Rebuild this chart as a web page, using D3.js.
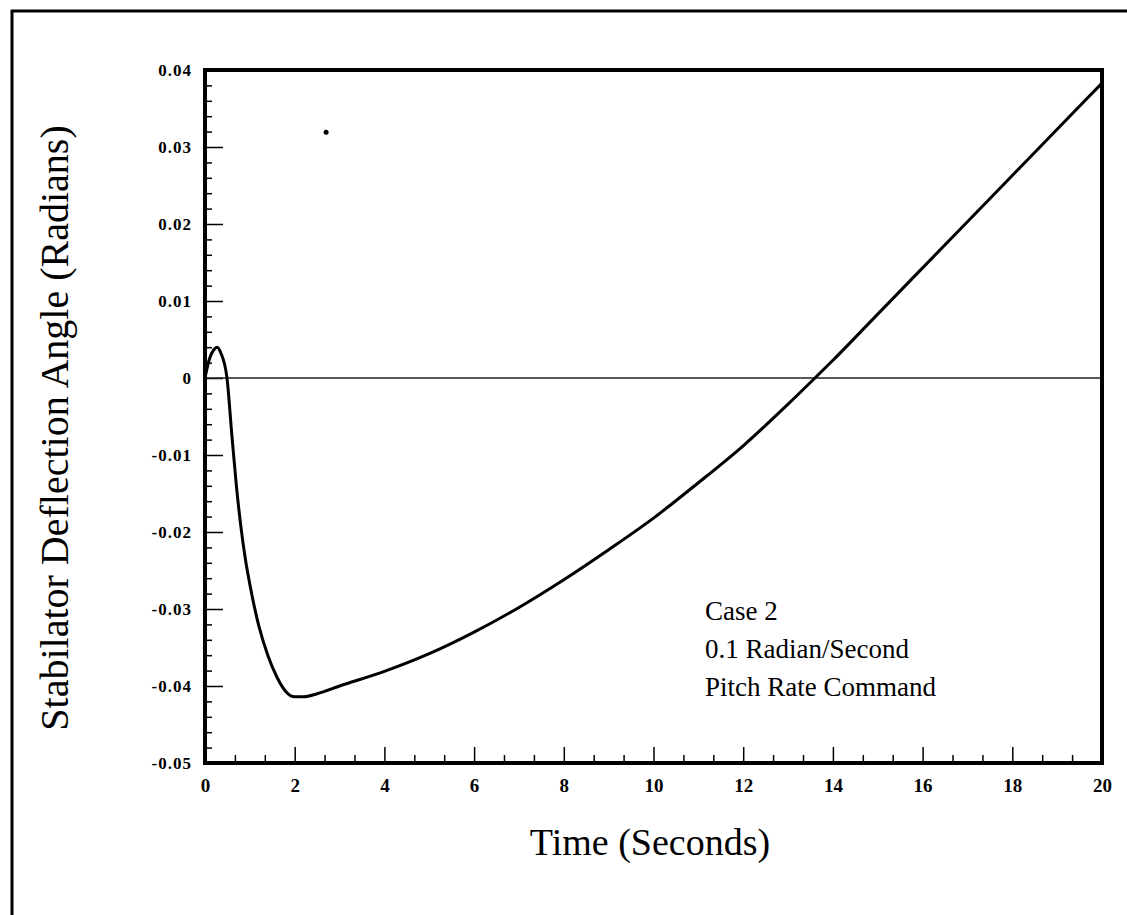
<!DOCTYPE html>
<html>
<head>
<meta charset="utf-8">
<script src="https://cdn.jsdelivr.net/npm/d3@7"></script>
<style>
  body { margin: 0; background: #fff; }
  svg { display: block; }
  text { font-family: "Liberation Serif", "Times New Roman", serif; fill: #000; }
  .tick-lbl { font-weight: bold; }
</style>
</head>
<body>
<svg id="chart" width="1127" height="915"></svg>
<script>
// time samples (seconds) and stabilator deflection (radians)
const timeS = [0, 0.1, 0.2, 0.27, 0.35, 0.49, 0.6, 0.7, 0.8, 0.9, 1.0, 1.1, 1.2, 1.4, 1.6, 1.8, 2.0, 2.2, 2.5, 3,
  4, 5, 6, 7, 8, 9, 10, 11, 12, 13, 13.6, 14, 15, 16, 17, 18, 19, 20];
const angleRad = [0, 0.0025, 0.0037, 0.0040, 0.0033, 0, -0.0075, -0.0140, -0.0193, -0.0235, -0.0268, -0.0297, -0.0322, -0.0360, -0.0388, -0.0407, -0.0414, -0.0414, -0.0410, -0.0400,
  -0.0381, -0.0358, -0.0330, -0.0298, -0.0262, -0.0223, -0.0182, -0.0136, -0.0088, -0.0034, 0, 0.0023, 0.0083, 0.0143, 0.0203, 0.0263, 0.0323, 0.0383];

// stray mark in the scan
const strayDot = [2.7, 0.0319];

const xTicks = [0, 2, 4, 6, 8, 10, 12, 14, 16, 18, 20];
const yTicks = [0.04, 0.03, 0.02, 0.01, 0, -0.01, -0.02, -0.03, -0.04, -0.05];
const yTickLabels = ['0.04', '0.03', '0.02', '0.01', '0', '-0.01', '-0.02', '-0.03', '-0.04', '-0.05'];

const noteLines = ['Case 2', '0.1 Radian/Second', 'Pitch Rate Command'];

const svg = d3.select('#chart');

const plotLeft = 205, plotRight = 1102, plotTop = 70, plotBottom = 763;

let x = d3.scaleLinear().domain([0, 20]).range([plotLeft, plotRight]);
let y = d3.scaleLinear().domain([-0.05, 0.04]).range([plotBottom, plotTop]);

/// outer page frame (only top and left edges fall inside the picture)
svg.append('path')
  .attr('d', 'M12,915 V11 H1127')
  .attr('fill', 'none')
  .attr('stroke', '#000')
  .attr('stroke-width', 3);

/// minor ticks
let xMinor = d3.range(0, 20.001, 2 / 3).filter(function(v) { return Math.abs(v / 2 - Math.round(v / 2)) > 0.01; });
let yMinor = d3.range(-0.05, 0.0401, 0.002).filter(function(v) { return Math.abs(v * 100 - Math.round(v * 100)) > 0.01; });

svg.append('g')
  .attr('transform', 'translate(0,' + plotBottom + ')')
  .call(d3.axisBottom(x).tickValues(xMinor).tickSize(-8).tickFormat(''))
  .call(function(g) { g.select('.domain').remove(); })
  .selectAll('line').attr('stroke-width', 1.5);

svg.append('g')
  .attr('transform', 'translate(' + plotLeft + ',0)')
  .call(d3.axisLeft(y).tickValues(yMinor).tickSize(-7).tickFormat(''))
  .call(function(g) { g.select('.domain').remove(); })
  .selectAll('line').attr('stroke-width', 1.5);

/// major ticks + labels
let xAxis = svg.append('g')
  .attr('transform', 'translate(0,' + plotBottom + ')')
  .call(d3.axisBottom(x).tickValues(xTicks).tickSize(-16).tickPadding(0).tickFormat(d3.format('d')));
xAxis.select('.domain').remove();
xAxis.selectAll('line').attr('stroke-width', 1.5);
xAxis.selectAll('text')
  .attr('class', 'tick-lbl')
  .attr('y', 29)
  .attr('dy', 0)
  .style('font-size', '19px')
  .style('font-family', '"Liberation Serif", serif');

let yAxis = svg.append('g')
  .attr('transform', 'translate(' + plotLeft + ',0)')
  .call(d3.axisLeft(y).tickValues(yTicks).tickSize(-18)
    .tickFormat(function(d, i) { return yTickLabels[i]; }));
yAxis.select('.domain').remove();
yAxis.selectAll('line').attr('stroke-width', 1.5);
yAxis.selectAll('text')
  .attr('class', 'tick-lbl')
  .attr('x', -13)
  .attr('dy', '0.35em')
  .style('font-size', '17px')
  .style('letter-spacing', '1px')
  .style('font-family', '"Liberation Serif", serif');

/// zero reference line
svg.append('line')
  .attr('x1', x(0)).attr('x2', x(20))
  .attr('y1', y(0)).attr('y2', y(0))
  .attr('stroke', '#222')
  .attr('stroke-width', 1.3);

/// plot frame
svg.append('rect')
  .attr('x', plotLeft).attr('y', plotTop)
  .attr('width', plotRight - plotLeft).attr('height', plotBottom - plotTop)
  .attr('fill', 'none')
  .attr('stroke', '#000')
  .attr('stroke-width', 4);

/// response curve
let points = timeS.map(function(t, i) { return [t, angleRad[i]]; });
let line = d3.line()
  .x(function(d) { return x(d[0]); })
  .y(function(d) { return y(d[1]); })
  .curve(d3.curveMonotoneX);

svg.append('path')
  .datum(points)
  .attr('d', line)
  .attr('fill', 'none')
  .attr('stroke', '#000')
  .attr('stroke-width', 3)
  .attr('stroke-linejoin', 'round');

svg.append('circle')
  .attr('cx', x(strayDot[0]))
  .attr('cy', y(strayDot[1]))
  .attr('r', 2.5)
  .attr('fill', '#000');

/// annotation
svg.append('g')
  .selectAll('text')
  .data(noteLines)
  .enter().append('text')
  .attr('x', 705)
  .attr('y', function(d, i) { return 620 + i * 38; })
  .style('font-size', '27px')
  .text(function(d) { return d; });

/// axis titles
svg.append('text')
  .attr('x', 650)
  .attr('y', 855)
  .attr('text-anchor', 'middle')
  .style('font-size', '38px')
  .text('Time (Seconds)');

svg.append('text')
  .attr('transform', 'translate(68,428) rotate(-90)')
  .attr('text-anchor', 'middle')
  .style('font-size', '40px')
  .text('Stabilator Deflection Angle (Radians)');
</script>
</body>
</html>
